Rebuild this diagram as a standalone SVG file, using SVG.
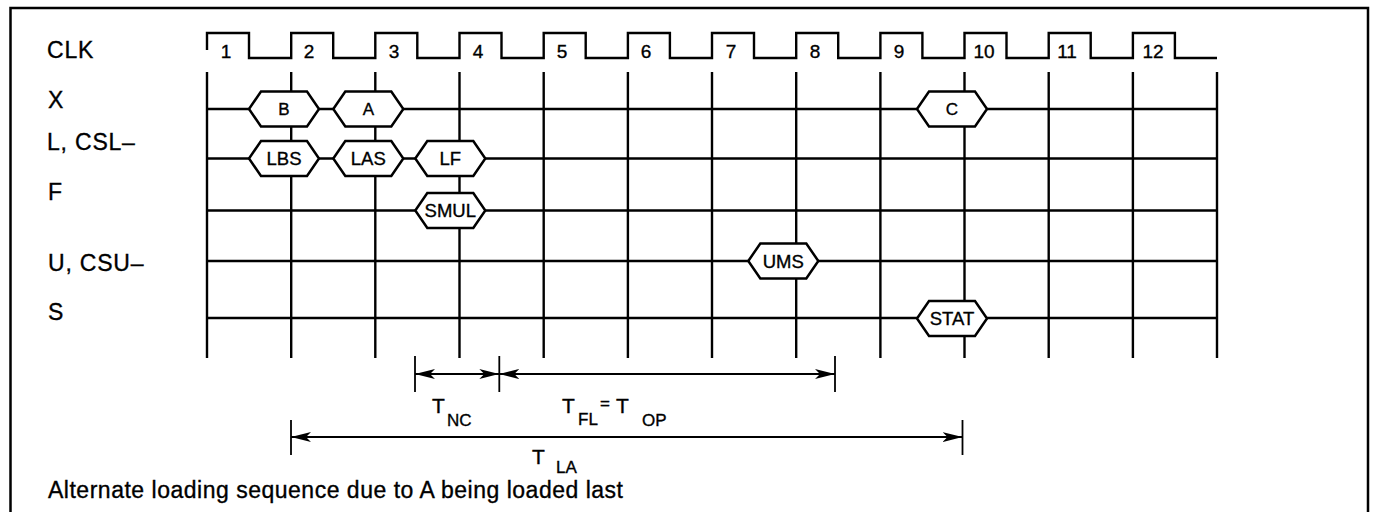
<svg xmlns="http://www.w3.org/2000/svg" width="1374" height="512" viewBox="0 0 1374 512">
<style>
  .ln{stroke:#000;stroke-width:2.4;fill:none}
  .dim{stroke:#000;stroke-width:1.8;fill:none}
  .hex{fill:#fff;stroke:#000;stroke-width:2.5}
  text{font-family:"Liberation Sans",Arial,sans-serif;fill:#000;stroke:#000;stroke-width:0.35}
  .lbl{font-size:23px;letter-spacing:0.8px}
  .num{font-size:19px;text-anchor:middle}
  .ht{font-size:18.5px;text-anchor:middle}
  .hs{font-size:17px;text-anchor:middle}
  .tb{font-size:21px}
  .ts{font-size:17px}
</style>
<defs>
  <path id="hx" d="M-35,0 L-23,-17.5 L23,-17.5 L35,0 L23,17.5 L-23,17.5 Z"/>
  <marker id="ah" viewBox="0 0 20 10" refX="20" refY="5" markerWidth="20" markerHeight="10" markerUnits="userSpaceOnUse" orient="auto-start-reverse">
    <path d="M0,0 L20,5 L0,10 L5,5 Z" fill="#000"/>
  </marker>
</defs>
<rect width="1374" height="512" fill="#fff"/>
<path d="M10.5,512 V8 H1368 V512" fill="none" stroke="#000" stroke-width="2.5"/>

<g id="labels">
  <text class="lbl" x="47" y="58">CLK</text>
  <text class="lbl" x="48" y="108">X</text>
  <text class="lbl" x="47" y="150">L, CSL–</text>
  <text class="lbl" x="48" y="200">F</text>
  <text class="lbl" x="48" y="271">U, CSU–</text>
  <text class="lbl" x="48" y="320">S</text>
</g>

<g id="clock">
  <path class="ln" d="M207,50 V33 H249 V58 H291.2 V33 H333.2 V58 H375.3 V33 H417.3 V58 H459.5 V33 H501.5 V58 H543.7 V33 H585.7 V58 H627.9 V33 H669.9 V58 H712 V33 H754 V58 H796.2 V33 H838.2 V58 H880.4 V33 H922.4 V58 H964.5 V33 H1006.5 V58 H1048.7 V33 H1090.7 V58 H1132.9 V33 H1174.9 V58 H1217"/>
  <text class="num" x="226" y="58">1</text>
  <text class="num" x="309" y="58">2</text>
  <text class="num" x="394" y="58">3</text>
  <text class="num" x="478" y="58">4</text>
  <text class="num" x="562" y="58">5</text>
  <text class="num" x="646" y="58">6</text>
  <text class="num" x="731" y="58">7</text>
  <text class="num" x="815" y="58">8</text>
  <text class="num" x="899" y="58">9</text>
  <text class="num" x="984" y="58">10</text>
  <text class="num" x="1067" y="58">11</text>
  <text class="num" x="1153" y="58">12</text>
</g>

<g id="connectors">
  <g id="grid-v" class="ln">
    <line x1="207" y1="72" x2="207" y2="358"/>
    <line x1="291.2" y1="72" x2="291.2" y2="358"/>
    <line x1="375.3" y1="72" x2="375.3" y2="358"/>
    <line x1="459.5" y1="72" x2="459.5" y2="358"/>
    <line x1="543.7" y1="72" x2="543.7" y2="358"/>
    <line x1="627.9" y1="72" x2="627.9" y2="358"/>
    <line x1="712" y1="72" x2="712" y2="358"/>
    <line x1="796.2" y1="72" x2="796.2" y2="358"/>
    <line x1="880.4" y1="72" x2="880.4" y2="358"/>
    <line x1="964.5" y1="72" x2="964.5" y2="358"/>
    <line x1="1048.7" y1="72" x2="1048.7" y2="358"/>
    <line x1="1132.9" y1="72" x2="1132.9" y2="358"/>
    <line x1="1217" y1="72" x2="1217" y2="358"/>
  </g>
  <g id="grid-h" class="ln">
    <line x1="207" y1="109" x2="1217" y2="109"/>
    <line x1="207" y1="158.5" x2="1217" y2="158.5"/>
    <line x1="207" y1="210.5" x2="1217" y2="210.5"/>
    <line x1="207" y1="261" x2="1217" y2="261"/>
    <line x1="207" y1="318" x2="1217" y2="318"/>
  </g>
</g>

<g id="node-B" transform="translate(284,109)"><use href="#hx" class="hex"/><text class="hs" y="6">B</text></g>
<g id="node-A" transform="translate(368.3,109)"><use href="#hx" class="hex"/><text class="hs" y="6">A</text></g>
<g id="node-C" transform="translate(952,109)"><use href="#hx" class="hex"/><text class="hs" y="6">C</text></g>
<g id="node-LBS" transform="translate(284,158.5)"><use href="#hx" class="hex"/><text class="ht" y="6.5">LBS</text></g>
<g id="node-LAS" transform="translate(368.3,158.5)"><use href="#hx" class="hex"/><text class="ht" y="6.5">LAS</text></g>
<g id="node-LF" transform="translate(450.3,158.5)"><use href="#hx" class="hex"/><text class="ht" y="6.5">LF</text></g>
<g id="node-SMUL" transform="translate(450.3,210.5)"><use href="#hx" class="hex"/><text class="ht" y="6.5">SMUL</text></g>
<g id="node-UMS" transform="translate(783.3,261)"><use href="#hx" class="hex"/><text class="ht" y="6.5">UMS</text></g>
<g id="node-STAT" transform="translate(952,318.5)"><use href="#hx" class="hex"/><text class="ht" y="6.5">STAT</text></g>

<g id="dimensions">
  <g class="dim">
    <line x1="415" y1="356" x2="415" y2="392"/>
    <line x1="499.3" y1="356" x2="499.3" y2="392"/>
    <line x1="835" y1="356" x2="835" y2="392"/>
    <line x1="291" y1="420" x2="291" y2="455"/>
    <line x1="962.5" y1="420" x2="962.5" y2="455"/>
    <line x1="415" y1="374" x2="499.3" y2="374" marker-start="url(#ah)" marker-end="url(#ah)"/>
    <line x1="499.3" y1="374" x2="835" y2="374" marker-start="url(#ah)" marker-end="url(#ah)"/>
    <line x1="291" y1="437" x2="962.5" y2="437" marker-start="url(#ah)" marker-end="url(#ah)"/>
  </g>
  <text><tspan class="tb" x="432" y="413">T</tspan><tspan class="ts" x="447" y="426">NC</tspan></text>
  <text><tspan class="tb" x="562" y="413">T</tspan><tspan class="ts" x="578" y="425">FL</tspan><tspan class="ts" x="600" y="409">=</tspan><tspan class="tb" x="616" y="413">T</tspan><tspan class="ts" x="642" y="426">OP</tspan></text>
  <text><tspan class="tb" x="532" y="464">T</tspan><tspan class="ts" x="556" y="473">LA</tspan></text>
</g>

<text x="48" y="498" font-size="23" textLength="575" lengthAdjust="spacing">Alternate loading sequence due to A being loaded last</text>
</svg>
